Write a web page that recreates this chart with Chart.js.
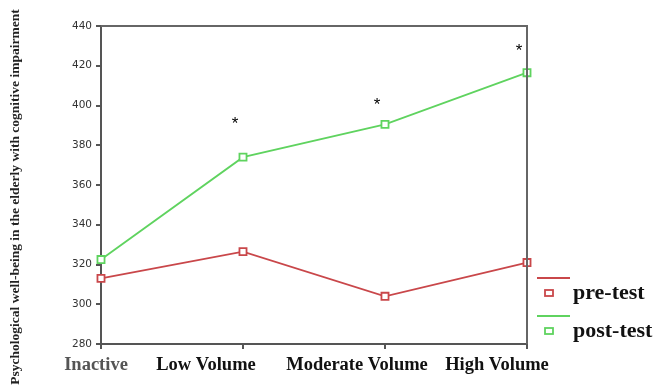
<!DOCTYPE html>
<html>
<head>
<meta charset="utf-8">
<script src="https://cdn.jsdelivr.net/npm/chart.js@4/dist/chart.umd.min.js"></script>
<style>
html,body{margin:0;padding:0;background:#fff;}
#wrap{width:662px;height:392px;position:relative;}
</style>
</head>
<body>
<div id="wrap"><canvas id="c" width="662" height="392"></canvas></div>
<script>
const categories = ["Inactive", "Low Volume", "Moderate Volume", "High Volume"];
const preTest = [313, 326.5, 304, 321];
const postTest = [322.5, 374, 390.5, 416.5];
const starMarks = [null, 393, 403, 430];
const yTicks = [280, 300, 320, 340, 360, 380, 400, 420, 440];
const yTitle = "Psychological well-being in the elderly with cognitive impairment";
const seriesNames = ["pre-test", "post-test"];

const RED = "#c9474a";
const GREEN = "#5fd35f";

const decor = {
  id: "decor",
  afterDatasetsDraw(chart) {
    const ctx = chart.ctx;
    const a = chart.chartArea;
    const xs = chart.scales.x, ys = chart.scales.y;
    ctx.save();
    // frame top and right
    ctx.strokeStyle = "#666";
    ctx.lineWidth = 2;
    ctx.beginPath();
    ctx.moveTo(a.left, a.top);
    ctx.lineTo(a.right, a.top);
    ctx.lineTo(a.right, a.bottom);
    ctx.stroke();
    // asterisks
    ctx.fillStyle = "#000";
    ctx.font = "17px 'Liberation Sans'";
    ctx.textAlign = "center";
    ctx.textBaseline = "alphabetic";
    starMarks.forEach((v, i) => {
      if (v == null) return;
      ctx.fillText("*", xs.getPixelForValue(i) - 8, ys.getPixelForValue(v) + 10);
    });
    // x labels
    const offs = [-5, -37, -28, -30];
    ctx.textBaseline = "middle";
    categories.forEach((c, i) => {
      ctx.font = "bold 18.5px 'Liberation Serif'";
      ctx.fillStyle = i === 0 ? "#555" : "#111";
      ctx.fillText(c, xs.getPixelForValue(i) + offs[i], 365);
    });
    // y title
    ctx.save();
    ctx.translate(16, 197);
    ctx.rotate(-Math.PI / 2);
    ctx.font = "bold 13.5px 'Liberation Serif'";
    ctx.fillStyle = "#222";
    ctx.textAlign = "center";
    ctx.fillText(yTitle, 0, 0);
    ctx.restore();
    // legend
    const cols = [RED, GREEN];
    const base = [278, 316];
    seriesNames.forEach((n, i) => {
      const y = base[i];
      ctx.strokeStyle = cols[i];
      ctx.lineWidth = 2;
      ctx.beginPath();
      ctx.moveTo(537, y);
      ctx.lineTo(570, y);
      ctx.stroke();
      ctx.lineWidth = 1.8;
      ctx.fillStyle = "#fff";
      ctx.fillRect(545, y + 12, 8, 6);
      ctx.strokeRect(545, y + 12, 8, 6);
      ctx.fillStyle = "#111";
      ctx.font = "bold 22px 'Liberation Serif'";
      ctx.textAlign = "left";
      ctx.fillText(n, 573, y + 15);
    });
    ctx.restore();
  }
};

new Chart(document.getElementById("c"), {
  type: "line",
  data: {
    labels: categories,
    datasets: [
      {
        label: seriesNames[0], data: preTest,
        borderColor: RED, borderWidth: 1.8,
        pointStyle: "rect", pointRadius: 5, pointBorderWidth: 1.8,
        pointBackgroundColor: "#fff", pointBorderColor: RED,
        clip: false, tension: 0
      },
      {
        label: seriesNames[1], data: postTest,
        borderColor: GREEN, borderWidth: 1.8,
        pointStyle: "rect", pointRadius: 5, pointBorderWidth: 1.8,
        pointBackgroundColor: "#fff", pointBorderColor: GREEN,
        clip: false, tension: 0
      }
    ]
  },
  options: {
    responsive: false,
    animation: false,
    layout: { padding: { left: 0, top: 26, right: 135, bottom: 0 } },
    plugins: { legend: { display: false }, tooltip: { enabled: false } },
    scales: {
      x: {
        offset: false,
        grid: { drawOnChartArea: false, drawTicks: true, tickLength: 5, color: "#555", lineWidth: 2 },
        border: { color: "#555", width: 2 },
        ticks: { display: false },
        afterFit(s) { s.height = 48; }
      },
      y: {
        min: 280, max: 440,
        afterBuildTicks(s) { s.ticks = yTicks.map(v => ({ value: v })); },
        grid: { drawOnChartArea: false, drawTicks: true, tickLength: 5, color: "#555", lineWidth: 2 },
        border: { color: "#555", width: 2 },
        ticks: { color: "#333", padding: 4, font: { family: "DejaVu Sans", size: 10.5 } },
        afterFit(s) { s.width = 101; }
      }
    }
  },
  plugins: [decor]
});
</script>
</body>
</html>
